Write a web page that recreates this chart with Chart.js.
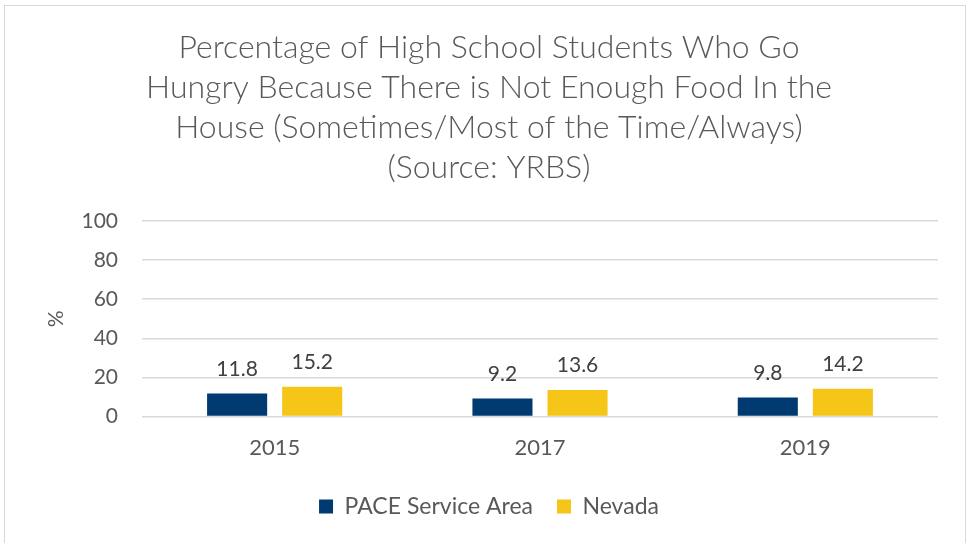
<!DOCTYPE html>
<html>
<head>
<meta charset="utf-8">
<script src="https://cdn.jsdelivr.net/npm/chart.js@4"></script>
<style>
  html, body { margin: 0; padding: 0; background: #fff; }
  body { width: 967px; height: 543px; overflow: hidden; position: relative; }
  .frame { position: absolute; left: 4px; top: 5px; width: 962px; height: 545px; border: 1px solid #d9d9d9; box-sizing: border-box; }
  .wrap { position: absolute; left: 0; top: 0; width: 967px; height: 543px; }
</style>
</head>
<body>
<div class="frame"></div>
<div class="wrap"><canvas id="c"></canvas></div>
<script>
const TITLE = [
  'Percentage of High School Students Who Go',
  'Hungry Because There is Not Enough Food In the',
  'House (Sometimes/Most of the Time/Always)',
  '(Source: YRBS)',
];
const YEARS = ['2015', '2017', '2019'];
const PACE = [11.8, 9.2, 9.8];
const NEVADA = [15.2, 13.6, 14.2];

const FONT = 'Lato, "Open Sans", sans-serif';

const valueLabels = {
  id: 'valueLabels',
  afterDatasetsDraw(chart) {
    const ctx = chart.ctx;
    ctx.save();
    ctx.font = '21px ' + FONT;
    ctx.fillStyle = '#404040';
    ctx.textAlign = 'center';
    ctx.textBaseline = 'bottom';
    chart.data.datasets.forEach((ds, i) => {
      chart.getDatasetMeta(i).data.forEach((bar, j) => {
        ctx.fillText(String(ds.data[j]), bar.x, bar.y - 14);
      });
    });
    ctx.restore();
  },
};

new Chart(document.getElementById('c'), {
  type: 'bar',
  data: {
    labels: YEARS,
    datasets: [
      { label: 'PACE Service Area', data: PACE, backgroundColor: '#003a70' },
      { label: 'Nevada', data: NEVADA, backgroundColor: '#f5c518' },
    ],
  },
  options: {
    responsive: true,
    maintainAspectRatio: false,
    animation: false,
    layout: { padding: { left: 40, right: 29, top: 0, bottom: 15 } },
    barPercentage: 0.8,
    categoryPercentage: 0.566,
    plugins: {
      tooltip: { enabled: false },
      title: {
        display: true,
        text: TITLE,
        color: '#595959',
        font: { family: FONT, size: 32, weight: 300, lineHeight: 1.25 },
        padding: { top: 28, bottom: 33 },
      },
      legend: {
        position: 'bottom',
        labels: {
          color: '#595959',
          font: { family: FONT, size: 23 },
          boxWidth: 14,
          boxHeight: 14,
          padding: 24,
        },
      },
    },
    scales: {
      x: {
        grid: { display: false },
        border: { display: false },
        ticks: { color: '#595959', font: { family: FONT, size: 22 }, padding: 10 },
      },
      y: {
        min: 0,
        max: 100,
        ticks: { stepSize: 20, color: '#595959', font: { family: FONT, size: 21 }, padding: 24 },
        grid: { color: '#d9d9d9', lineWidth: 1.5, drawTicks: false },
        border: { display: false },
        title: { display: true, text: '%', color: '#595959', font: { family: FONT, size: 21 } },
        afterFit(scale) { scale.width = 102; },
      },
    },
  },
  plugins: [valueLabels],
});
</script>
</body>
</html>
